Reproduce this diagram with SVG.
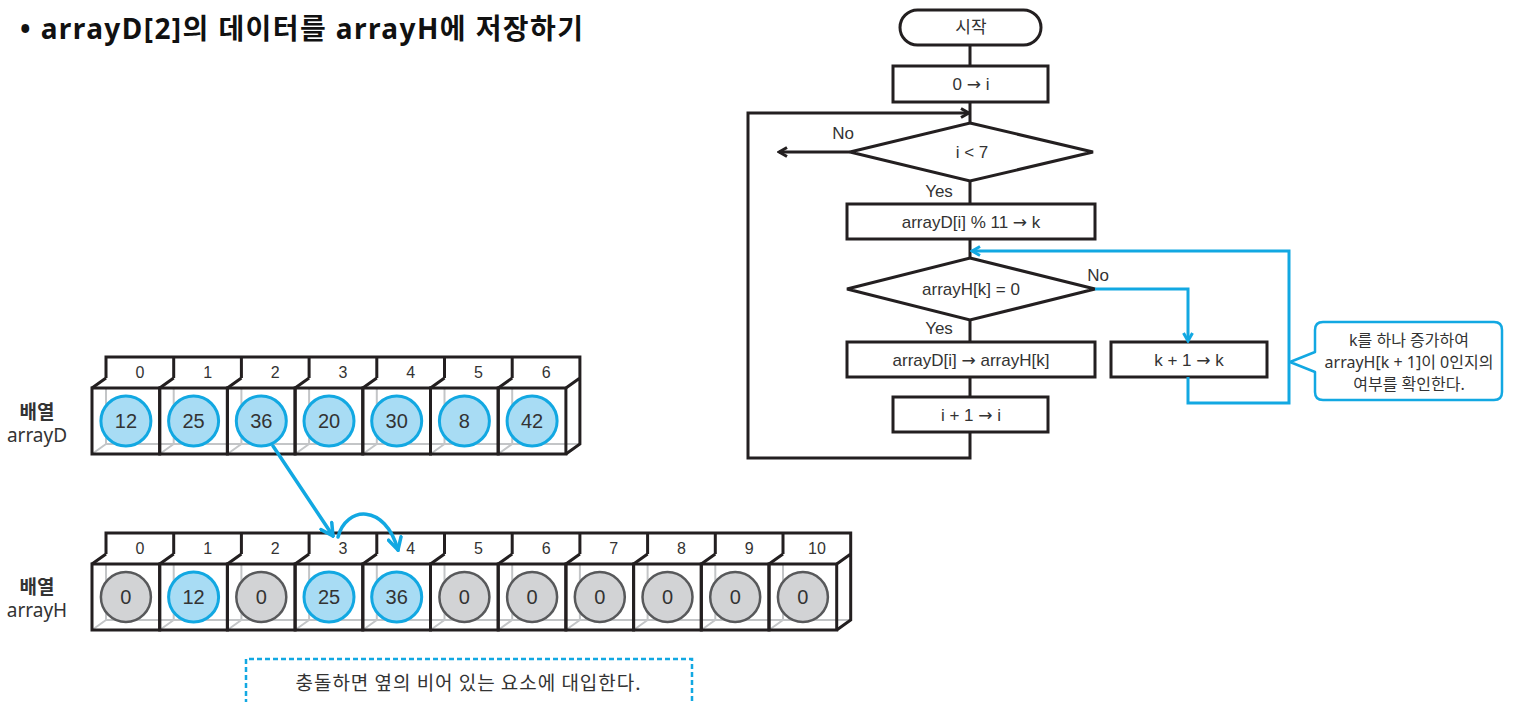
<svg xmlns="http://www.w3.org/2000/svg" width="1517" height="702" viewBox="0 0 1517 702">
  <style>
    .title { font-family: "Noto Sans", "Noto Sans CJK KR", sans-serif; font-weight: 700; font-size: 28px; fill: #111; }
    .lbl { font-family: "Noto Sans", "Noto Sans CJK KR", sans-serif; font-size: 19px; fill: #333; text-anchor: middle; }
    .lbl.b { font-weight: 700; }
    .idx { font-family: "Liberation Sans", "Noto Sans CJK KR", sans-serif; font-size: 16px; fill: #333; text-anchor: middle; }
    .val { font-family: "Liberation Sans", "Noto Sans CJK KR", sans-serif; font-size: 20px; fill: #333; text-anchor: middle; }
    .fc { font-family: "Liberation Sans", "Noto Sans CJK KR", sans-serif; font-size: 17px; fill: #333; text-anchor: middle; }
    .ar { font-family: "DejaVu Sans", sans-serif; }
    .note { font-family: "Noto Sans", "Noto Sans CJK KR", sans-serif; font-size: 16px; fill: #333; text-anchor: middle; }
    .cap { font-family: "Noto Sans CJK KR", sans-serif; font-size: 19px; fill: #333; text-anchor: middle; }
    .frame { fill: none; stroke: #231f20; stroke-width: 3; stroke-linejoin: miter; }
    .cell { fill: none; stroke: #231f20; stroke-width: 3; }
    .back { fill: none; stroke: #c3c5c7; stroke-width: 2; }
    .cb { fill: #a8dcf4; stroke: #12a8e2; stroke-width: 3; }
    .cg { fill: #d2d3d5; stroke: #58595b; stroke-width: 2.5; }
    .shape { fill: #fff; stroke: #231f20; stroke-width: 3; }
    .wire { fill: none; stroke: #231f20; stroke-width: 3; }
    .bwire { fill: none; stroke: #12a8e2; stroke-width: 3; }
    .bthick { fill: none; stroke: #12a8e2; stroke-width: 3.5; stroke-linecap: round; }
  </style>
  <defs>
    <marker id="ahK" viewBox="0 0 12 12" refX="10" refY="6" markerWidth="12" markerHeight="12" markerUnits="userSpaceOnUse" orient="auto">
      <path d="M2,1.5 L10,6 L2,10.5" fill="none" stroke="#231f20" stroke-width="3"/>
    </marker>
    <marker id="ahB" viewBox="0 0 12 12" refX="10" refY="6" markerWidth="12" markerHeight="12" markerUnits="userSpaceOnUse" orient="auto">
      <path d="M2,1.5 L10,6 L2,10.5" fill="none" stroke="#12a8e2" stroke-width="3"/>
    </marker>
    <marker id="ahB2" viewBox="0 0 16 16" refX="14" refY="8" markerWidth="16" markerHeight="16" markerUnits="userSpaceOnUse" orient="auto">
      <path d="M2,1.5 L14,8 L2,14.5" fill="none" stroke="#12a8e2" stroke-width="3.5" stroke-linecap="round"/>
    </marker>
  </defs>

  <rect width="1517" height="702" fill="#fff"/>

  <text class="title" x="20" y="39" textLength="563" lengthAdjust="spacing">• arrayD[2]의 데이터를 arrayH에 저장하기</text>

  <!-- array D: 7 cells -->
  <g id="arrayD">
    <text class="lbl b" x="37" y="419">배열</text>
    <text class="lbl" x="37" y="442">arrayD</text>
    <path class="back" d="M106,444 H579.9 M106,388 V444 M173.7,388 V444 M241.4,388 V444 M309.1,388 V444 M376.8,388 V444 M444.5,388 V444 M512.2,388 V444
      M92,454 L106,444 M159.7,454 L173.7,444 M227.4,454 L241.4,444 M295.1,454 L309.1,444 M362.8,454 L376.8,444 M430.5,454 L444.5,444 M498.2,454 L512.2,444"/>
    <path class="frame" d="M106,378 V357 H579.9 V444 L565.9,454
      M173.7,357 V378 M241.4,357 V378 M309.1,357 V378 M376.8,357 V378 M444.5,357 V378 M512.2,357 V378
      M106,378 L92,388 M173.7,378 L159.7,388 M241.4,378 L227.4,388 M309.1,378 L295.1,388 M376.8,378 L362.8,388 M444.5,378 L430.5,388 M512.2,378 L498.2,388 M579.9,378 L565.9,388"/>
    <rect class="cell" x="92" y="388" width="67.7" height="66"/>
    <rect class="cell" x="159.7" y="388" width="67.7" height="66"/>
    <rect class="cell" x="227.4" y="388" width="67.7" height="66"/>
    <rect class="cell" x="295.1" y="388" width="67.7" height="66"/>
    <rect class="cell" x="362.8" y="388" width="67.7" height="66"/>
    <rect class="cell" x="430.5" y="388" width="67.7" height="66"/>
    <rect class="cell" x="498.2" y="388" width="67.7" height="66"/>
    <text class="idx" x="139.9" y="378">0</text>
    <text class="idx" x="207.6" y="378">1</text>
    <text class="idx" x="275.3" y="378">2</text>
    <text class="idx" x="343" y="378">3</text>
    <text class="idx" x="410.7" y="378">4</text>
    <text class="idx" x="478.4" y="378">5</text>
    <text class="idx" x="546.1" y="378">6</text>
    <circle class="cb" cx="125.9" cy="421" r="25"/>
    <circle class="cb" cx="193.6" cy="421" r="25"/>
    <circle class="cb" cx="261.3" cy="421" r="25"/>
    <circle class="cb" cx="329" cy="421" r="25"/>
    <circle class="cb" cx="396.7" cy="421" r="25"/>
    <circle class="cb" cx="464.4" cy="421" r="25"/>
    <circle class="cb" cx="532.1" cy="421" r="25"/>
    <text class="val" x="125.9" y="428">12</text>
    <text class="val" x="193.6" y="428">25</text>
    <text class="val" x="261.3" y="428">36</text>
    <text class="val" x="329" y="428">20</text>
    <text class="val" x="396.7" y="428">30</text>
    <text class="val" x="464.4" y="428">8</text>
    <text class="val" x="532.1" y="428">42</text>
  </g>

  <!-- array H: 11 cells -->
  <g id="arrayH">
    <text class="lbl b" x="37" y="594">배열</text>
    <text class="lbl" x="37" y="617">arrayH</text>
    <path class="back" d="M106,620 H850.7 M106,564 V620 M173.7,564 V620 M241.4,564 V620 M309.1,564 V620 M376.8,564 V620 M444.5,564 V620 M512.2,564 V620 M579.9,564 V620 M647.6,564 V620 M715.3,564 V620 M783,564 V620
      M92,630 L106,620 M159.7,630 L173.7,620 M227.4,630 L241.4,620 M295.1,630 L309.1,620 M362.8,630 L376.8,620 M430.5,630 L444.5,620 M498.2,630 L512.2,620 M565.9,630 L579.9,620 M633.6,630 L647.6,620 M701.3,630 L715.3,620 M769,630 L783,620"/>
    <path class="frame" d="M106,554 V533 H850.7 V620 L836.7,630
      M173.7,533 V554 M241.4,533 V554 M309.1,533 V554 M376.8,533 V554 M444.5,533 V554 M512.2,533 V554 M579.9,533 V554 M647.6,533 V554 M715.3,533 V554 M783,533 V554
      M106,554 L92,564 M173.7,554 L159.7,564 M241.4,554 L227.4,564 M309.1,554 L295.1,564 M376.8,554 L362.8,564 M444.5,554 L430.5,564 M512.2,554 L498.2,564 M579.9,554 L565.9,564 M647.6,554 L633.6,564 M715.3,554 L701.3,564 M783,554 L769,564 M850.7,554 L836.7,564"/>
    <rect class="cell" x="92" y="564" width="67.7" height="66"/>
    <rect class="cell" x="159.7" y="564" width="67.7" height="66"/>
    <rect class="cell" x="227.4" y="564" width="67.7" height="66"/>
    <rect class="cell" x="295.1" y="564" width="67.7" height="66"/>
    <rect class="cell" x="362.8" y="564" width="67.7" height="66"/>
    <rect class="cell" x="430.5" y="564" width="67.7" height="66"/>
    <rect class="cell" x="498.2" y="564" width="67.7" height="66"/>
    <rect class="cell" x="565.9" y="564" width="67.7" height="66"/>
    <rect class="cell" x="633.6" y="564" width="67.7" height="66"/>
    <rect class="cell" x="701.3" y="564" width="67.7" height="66"/>
    <rect class="cell" x="769" y="564" width="67.7" height="66"/>
    <text class="idx" x="139.9" y="554">0</text>
    <text class="idx" x="207.6" y="554">1</text>
    <text class="idx" x="275.3" y="554">2</text>
    <text class="idx" x="343" y="554">3</text>
    <text class="idx" x="410.7" y="554">4</text>
    <text class="idx" x="478.4" y="554">5</text>
    <text class="idx" x="546.1" y="554">6</text>
    <text class="idx" x="613.8" y="554">7</text>
    <text class="idx" x="681.5" y="554">8</text>
    <text class="idx" x="749.2" y="554">9</text>
    <text class="idx" x="816.9" y="554">10</text>
    <circle class="cg" cx="125.9" cy="597" r="25"/>
    <circle class="cb" cx="193.6" cy="597" r="25"/>
    <circle class="cg" cx="261.3" cy="597" r="25"/>
    <circle class="cb" cx="329" cy="597" r="25"/>
    <circle class="cb" cx="396.7" cy="597" r="25"/>
    <circle class="cg" cx="464.4" cy="597" r="25"/>
    <circle class="cg" cx="532.1" cy="597" r="25"/>
    <circle class="cg" cx="599.8" cy="597" r="25"/>
    <circle class="cg" cx="667.5" cy="597" r="25"/>
    <circle class="cg" cx="735.2" cy="597" r="25"/>
    <circle class="cg" cx="802.9" cy="597" r="25"/>
    <text class="val" x="125.9" y="604">0</text>
    <text class="val" x="193.6" y="604">12</text>
    <text class="val" x="261.3" y="604">0</text>
    <text class="val" x="329" y="604">25</text>
    <text class="val" x="396.7" y="604">36</text>
    <text class="val" x="464.4" y="604">0</text>
    <text class="val" x="532.1" y="604">0</text>
    <text class="val" x="599.8" y="604">0</text>
    <text class="val" x="667.5" y="604">0</text>
    <text class="val" x="735.2" y="604">0</text>
    <text class="val" x="802.9" y="604">0</text>
  </g>

  <!-- collision caption -->
  <g id="caption">
    <path d="M246,720 V659 H692 V720" fill="none" stroke="#12a8e2" stroke-width="2.5" stroke-dasharray="5,3"/>
    <text class="cap" x="468" y="690" textLength="345" lengthAdjust="spacing">충돌하면 옆의 비어 있는 요소에 대입한다.</text>
  </g>

  <!-- flowchart nodes -->
  <g id="start">
    <rect class="shape" x="900" y="10" width="141" height="35" rx="17.5"/>
    <text class="fc" x="971" y="33">시작</text>
  </g>
  <g id="init">
    <rect class="shape" x="893" y="66" width="155" height="36"/>
    <text class="fc" x="971" y="90">0 <tspan class="ar">→</tspan> i</text>
  </g>
  <g id="loopTest">
    <polygon class="shape" points="970,123 1093,152 970,181 850,152"/>
    <text class="fc" x="972" y="158">i &lt; 7</text>
  </g>
  <g id="hash">
    <rect class="shape" x="847" y="204" width="248" height="35"/>
    <text class="fc" x="971" y="228">arrayD[i] % 11 <tspan class="ar">→</tspan> k</text>
  </g>
  <g id="slotTest">
    <polygon class="shape" points="970,258 1095,289 970,320 847,289"/>
    <text class="fc" x="971" y="295">arrayH[k] = 0</text>
  </g>
  <g id="store">
    <rect class="shape" x="847" y="342" width="248" height="35"/>
    <text class="fc" x="971" y="366">arrayD[i] <tspan class="ar">→</tspan> arrayH[k]</text>
  </g>
  <g id="probe">
    <rect class="shape" x="1111" y="342" width="156" height="35"/>
    <text class="fc" x="1189" y="366">k + 1 <tspan class="ar">→</tspan> k</text>
  </g>
  <g id="next">
    <rect class="shape" x="893" y="397" width="155" height="35"/>
    <text class="fc" x="971" y="421">i + 1 <tspan class="ar">→</tspan> i</text>
  </g>
  <g id="note">
    <path d="M1323,322 H1494 Q1502,322 1502,330 V392 Q1502,400 1494,400 H1323 Q1315,400 1315,392 V372 L1290,362 L1315,352 V330 Q1315,322 1323,322 Z" fill="#fff" stroke="#12a8e2" stroke-width="2.5" stroke-linejoin="round"/>
    <text class="note" x="1409" y="346">k를 하나 증가하여</text>
    <text class="note" x="1409" y="368">arrayH[k + 1]이 0인지의</text>
    <text class="note" x="1409" y="390">여부를 확인한다.</text>
  </g>

  <!-- connectors -->
  <g id="connectors">
    <path class="wire" d="M970,45 V66 M970,102 V123 M970,181 V204 M970,239 V258 M970,320 V342 M970,377 V397"/>
    <path class="wire" d="M970,432 V458 H748 V113 H969" marker-end="url(#ahK)"/>
    <path class="wire" d="M850,152 H779" marker-end="url(#ahK)"/>
    <path class="bwire" d="M1095,289 H1188 V341" marker-end="url(#ahB)"/>
    <path class="bwire" d="M1188,377 V403 H1289 V251 H972" marker-end="url(#ahB)"/>
    <path class="bthick" d="M273,446 L333,536" marker-end="url(#ahB2)"/>
    <path class="bthick" d="M338,537 C346,506 385,503 398,550" marker-end="url(#ahB2)"/>
    <g class="fc">
      <text x="843" y="139">No</text>
      <text x="939" y="197">Yes</text>
      <text x="1098" y="281">No</text>
      <text x="939" y="334">Yes</text>
    </g>
  </g>
</svg>
